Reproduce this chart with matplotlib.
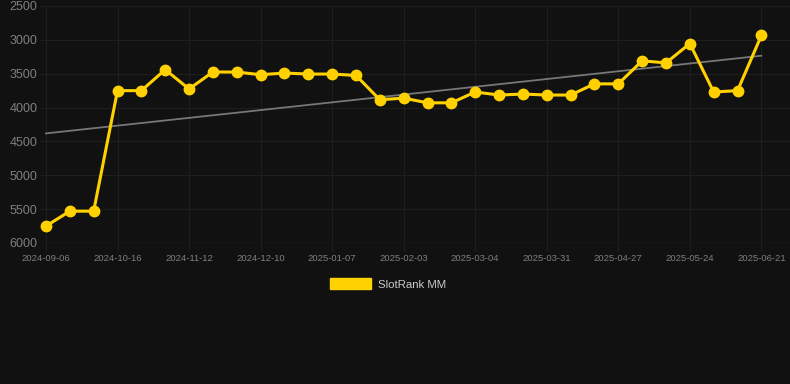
import numpy as np
import matplotlib
matplotlib.use('Agg')
import matplotlib.pyplot as plt
from matplotlib.patches import Patch

plt.rcParams['font.family'] = ['Liberation Sans', 'DejaVu Sans']

# rank values (lower is better, axis inverted)
rank = [5750, 5530, 5530, 3750, 3750, 3440, 3725, 3475, 3475, 3515,
        3490, 3505, 3505, 3525, 3885, 3860, 3930, 3930, 3770, 3815,
        3800, 3815, 3815, 3650, 3650, 3310, 3340, 3055, 3770, 3750,
        2935]
tick_labels = ['2024-09-06', '2024-10-16', '2024-11-12', '2024-12-10',
               '2025-01-07', '2025-02-03', '2025-03-04', '2025-03-31',
               '2025-04-27', '2025-05-24', '2025-06-21']
series_name = 'SlotRank MM'

bg = '#111111'
gold = '#FFD100'
grid_c = '#1e1e1e'

fig = plt.figure(figsize=(7.9, 3.84), dpi=100, facecolor=bg)
ax = fig.add_axes([40 / 790, 1 - 243 / 384, 750 / 790, 237 / 384])
ax.set_facecolor(bg)

x = np.arange(len(rank))
ax.plot(x, rank, color=gold, lw=2.2, marker='o', ms=7.5, zorder=3)

# linear trend
coef = np.polyfit(x, rank, 1)
ax.plot(x, np.polyval(coef, x), color='#777777', lw=1.3, zorder=2)

ax.set_ylim(6000, 2500)
ax.set_yticks([2500, 3000, 3500, 4000, 4500, 5000, 5500, 6000])
ax.set_xlim(-0.25, 31.2)
ax.set_xticks(x[::3])
ax.set_xticklabels(tick_labels)

ax.grid(True, color=grid_c, lw=0.8)
for s in ax.spines.values():
    s.set_visible(False)
ax.axhline(6000, color='#2a2a2a', lw=1)
ax.tick_params(axis='y', length=0, pad=2, labelsize=9, labelcolor='#7f7f7f')
ax.tick_params(axis='x', length=6, color=grid_c, pad=2, labelsize=6.8,
               labelcolor='#7f7f7f')

fig.legend(handles=[Patch(color=gold, label=series_name)], loc='center',
           bbox_to_anchor=(388 / 790, 1 - 284 / 384), frameon=False,
           fontsize=8.2, labelcolor='#cccccc', handlelength=3.6,
           handleheight=1.1, handletextpad=0.6)

fig.savefig('out.png', dpi=100, facecolor=bg)
